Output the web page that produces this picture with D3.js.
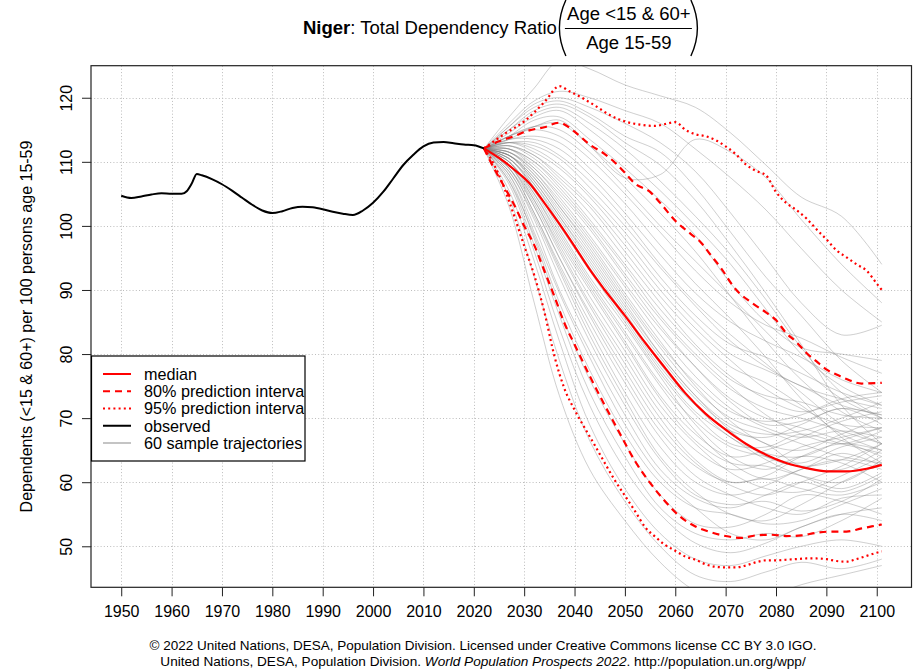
<!DOCTYPE html>
<html><head><meta charset="utf-8">
<script src="https://cdn.jsdelivr.net/npm/d3@7"></script>
<style>
body{margin:0;background:#fff}
svg{display:block}
text{font-family:"Liberation Sans",Arial,Helvetica,sans-serif;fill:#000}
</style>
</head><body>
<svg id="chart" width="917" height="670"></svg>
<script>
// ---------------- data ----------------
const country = "Niger";
const xTicks = [1950,1960,1970,1980,1990,2000,2010,2020,2030,2040,2050,2060,2070,2080,2090,2100];
const yTicks = [50,60,70,80,90,100,110,120];

const obsYears = [1950,1952,1954,1956,1958,1960,1962,1963,1964,1965,1966,1968,1970,1972,1974,1976,1978,1980,1982,1984,1986,1988,1990,1992,1994,1996,1998,2000,2002,2004,2006,2008,2010,2012,2014,2016,2018,2020,2022];
const obsValues = [104.7,104.35,104.6,104.9,105.1,105.0,105.0,105.4,106.6,108.1,107.9,107.3,106.5,105.5,104.4,103.3,102.4,102.0,102.3,102.8,103.0,102.9,102.6,102.2,101.9,101.7,102.4,103.6,105.3,107.4,109.5,111.1,112.4,113.0,113.1,112.9,112.7,112.6,112.1];

const medYears = [2022,2025,2028,2031,2034,2037,2040,2043,2046,2050,2054,2058,2062,2066,2070,2074,2078,2082,2086,2090,2094,2098,2101];
const medValues = [112.1,110.6,108.8,106.7,103.6,100.3,96.8,93.2,90.0,86.0,81.8,77.8,73.9,70.7,68.2,66.0,64.3,63.0,62.2,61.7,61.7,62.1,62.7];

const u80Years = [2022,2025,2028,2031,2034,2037,2040,2043,2046,2048,2050,2052,2055,2057,2060,2063,2065,2067,2069,2072,2075,2078,2080,2082,2084,2086,2088,2090,2092,2094,2097,2101];
const u80Values = [112.1,113.2,114.0,114.9,115.4,116.1,114.7,112.7,111.2,109.9,108.3,106.6,105.3,103.6,100.8,98.8,97.5,95.5,93.5,90.1,88.1,86.5,85.3,83.3,81.9,80.2,78.9,77.6,76.8,76.1,75.4,75.5];

const l80Years = [2022,2024,2026,2028,2030,2032,2034,2036,2038,2040,2043,2046,2049,2052,2055,2058,2061,2064,2067,2070,2073,2076,2079,2082,2085,2088,2091,2094,2097,2099,2101];
const l80Values = [112.1,109.0,106.2,103.3,100.0,97.0,93.0,89.0,84.8,81.5,76.6,72.0,67.6,63.3,59.9,57.0,54.6,53.1,52.2,51.6,51.3,51.7,51.8,51.6,51.7,52.1,52.3,52.3,52.8,53.1,53.4];

const u95Years = [2022,2026,2030,2034,2037,2039,2041,2044,2047,2050,2053,2056,2058,2060,2062,2064,2066,2068,2070,2072,2074,2076,2078,2080,2082,2084,2086,2088,2090,2092,2094,2096,2098,2100,2101];
const u95Values = [112.1,114.3,116.3,119.3,121.8,121.0,120.2,118.8,117.3,116.3,115.8,115.6,115.9,116.2,115.0,114.3,114.0,113.4,112.4,111.2,109.6,108.6,107.9,105.3,103.6,102.5,101.2,99.5,97.9,96.2,95.1,94.0,93.0,91.0,90.0];

const l95Years = [2022,2024,2026,2028,2030,2032,2034,2036,2038,2040,2042,2044,2046,2048,2050,2052,2054,2056,2058,2060,2062,2064,2066,2068,2070,2072,2074,2076,2078,2080,2082,2084,2086,2088,2090,2092,2094,2096,2098,2100,2101];
const l95Values = [112.1,109.6,106.0,101.6,96.9,92.3,86.6,79.7,74.6,71.3,68.5,65.8,63.0,60.3,57.9,55.5,53.0,51.5,50.2,49.3,48.4,47.9,47.2,46.8,46.7,46.7,47.0,47.5,47.8,47.8,47.9,48.0,48.1,48.1,48.0,47.7,47.6,48.0,48.5,49.0,49.2];

const trajYears = [2022,2027,2032,2037,2043,2050,2057,2064,2071,2078,2085,2093,2101];
const trajectories = [
 [112,103,88,73.5,62,54,47.5,43,41,42,44,45.5,47],
 [112,104.5,92,79,66.5,57,50,45.5,44.5,46,47.5,46.5,48],
 [112,105.5,94.5,82,69,59,52,48,47,48.5,50,51,50],
 [112,106.5,96,84,72,62,55,50.5,49,50.5,53,55,56],
 [112,107,97,86,74,64,56,52,51,52,51.5,54,57.5],
 [112,107.5,98,87,76,66,58,53.5,53,55,58,57,55],
 [112,107,98.5,88,77.5,67.5,60,56,55,53.5,54,56.5,59],
 [112,108,99,89.5,79.5,69,61,56,52,51,53,55,54],
 [112,108,100,90,80.5,70.5,62,57.5,56,58,60,58.5,61],
 [112,108.5,101,92,82,72,63.5,58,56.5,57,55.5,57,60.5],
 [112,108.5,101.5,93,83,73,64,58.5,55,54,56.5,60,63],
 [112,109,102,93.5,84,74,65.5,60,58,59.5,62,63.5,62],
 [112,109,102,94,85,75.5,67,61,58,56,55,57.5,58],
 [112,109,103,95,86,76.5,68,62.5,60,61,64,66,65],
 [112,109.5,103,95,86.5,77.5,69,63,59.5,58,60,62.5,66],
 [112,109.5,103.5,96,87.5,78.5,70,63.5,60,60.5,59,58,60],
 [112,109.5,104,96.5,88,79.5,71,65,62,63,65.5,67,68.5],
 [112,110,104,97,89,80.5,72,66,61.5,59,58.5,61,64],
 [112,110,104.5,97.5,90,81.5,73,66.5,63,62.5,61,60,63.5],
 [112,110,105,98,90.5,82,73.5,67.5,64,65,67,69.5,71],
 [112,110,105,98.5,91,83,75,68,63,60.5,62,64.5,62.5],
 [112,110.5,105.5,99,91.5,83.5,75.5,69.5,65.5,64,63,65.5,67],
 [112,110.5,106,99.5,92,84.5,76.5,69,64,62,64,63,60],
 [112,110.5,106,100,93,85,77,70.5,66,65.5,67.5,66,64.5],
 [112,111,106.5,100.5,93.5,85.5,77.5,71,67,63.5,61,59,61.5],
 [112,110.5,106.5,101,94,86,78,72,68,67,69,71.5,69],
 [112,111,107,101.5,94.5,86.5,78.5,72,67,64.5,64,66.5,68.5],
 [112,111,107,101.5,95,87,79.5,73,68.5,66,62.5,62,65],
 [112,111,107.5,102,95.5,87.5,80,73.5,69,67.5,68,70,72.5],
 [112,111,107.5,102.5,96,88,80,73.5,68,64,62.5,63.5,66],
 [112,111.5,108,103,96.5,88.5,81,74.5,70,68,66,64,63],
 [112,111,108,103,97,89,81.5,75.5,71,69.5,70.5,73,74],
 [112,111.5,108.5,103.5,97.5,89.5,82,75,69.5,66,65,67.5,70],
 [112,111.5,108.5,104,98,90.5,83,76.5,71.5,68.5,67,68,67],
 [112,111.5,109,104.5,98.5,91,84,78,73,70,68.5,66.5,64],
 [112,112,109,105,99.5,92,84.5,78,72.5,69,69.5,71.5,70.5],
 [112,112,109.5,105.5,100,92.5,85.5,79.5,74.5,71.5,70,68,66],
 [112,112,110,106,100.5,93.5,86,80,75,70.5,67.5,66,68],
 [112,112,110,106.5,101,94,87,81,76,73.5,72.5,70.5,70],
 [112,112.5,110.5,107,102,95,88,81.5,76.5,73,71,72.5,73.5],
 [112,112.5,111,107.5,103,96,89,83,78,75.5,72,67.5,65],
 [112,112.5,111,108,103.5,97,90,84,79,74.5,71.5,69,68.5],
 [112,113,111.5,109,104.5,98,91,85,80,77.5,75,72,70.5],
 [112,113,112,109.5,105,99,92,86,81.5,79.5,77,74,72],
 [112,113,112.5,110.5,106,100,93.5,87.5,82,78,75,73,71.5],
 [112,113,113,111,107,101,94,88,83,78.5,74,69,66],
 [112,113.5,113.5,112,108,102,95.5,89.5,85,82,79.5,76,74],
 [112,113.5,114,113,109,103.5,97,91,85.5,79.5,73,67,63],
 [112,114,115,114,110.5,105,99,93,88,84.5,82.5,79.5,77],
 [112,114,115.5,115,111.5,106,100,94.5,89,83.5,78,73,70],
 [112,113.5,115.5,116,112.5,107.5,102,96,89,82,76,71,68],
 [112,114,116.5,117,113.5,109,104,98.5,91,85,81,80,79],
 [112,114.5,117,118,115,110.5,105.5,100,94,87,80,75,72],
 [112,115,117.5,118.5,116,112,107,101.5,95.5,88.5,81,74,70],
 [112,115,118,119,117,113,109.5,104,97,89.5,81.5,72,66],
 [112,115.5,118.5,119.5,117.5,114,111.5,106,99,92,86,79,74],
 [112,115.5,119,120,118.5,116,113,108.5,102,95,88,83,84.5],
 [112,116,119.5,121,120,118,116,112,107.5,102.5,96.5,90,85],
 [112,114,115.5,116.5,112.5,107.5,108,113.5,111.5,107.5,101,94,88],
 [112,117,121.5,125.8,124.5,122,120.3,118.5,114.5,109.5,104.5,101.5,94]
];

const legendLabels = ["median","80% prediction interval","95% prediction interval","observed","60 sample trajectories"];

// ---------------- layout ----------------
const svg = d3.select("#chart");
const box = {left:91, right:911.5, top:65.7, bottom:587.3};
const x = d3.scaleLinear().domain([1944, 2107]).range([box.left, box.right+0.5]);
const y = d3.scaleLinear().domain([43.6, 125]).range([box.bottom, box.top]);

svg.append("rect").attr("width",917).attr("height",670).attr("fill","#fff");

const defs = svg.append("defs");
defs.append("clipPath").attr("id","clip")
  .append("rect").attr("x",box.left).attr("y",box.top)
  .attr("width",box.right-box.left).attr("height",box.bottom-box.top);
defs.append("clipPath").attr("id","legclip")
  .append("rect").attr("x",91).attr("y",355).attr("width",213.5).attr("height",107);

// grid
const grid = svg.append("g").attr("stroke","#bdbdbd").attr("stroke-width",1).attr("stroke-dasharray","1,2.2");
grid.selectAll("line.v").data(xTicks).join("line")
  .attr("x1",d=>Math.round(x(d))+0.5).attr("x2",d=>Math.round(x(d))+0.5)
  .attr("y1",box.top).attr("y2",box.bottom);
grid.selectAll("line.h").data(yTicks).join("line")
  .attr("y1",d=>Math.round(y(d))+0.5).attr("y2",d=>Math.round(y(d))+0.5)
  .attr("x1",box.left).attr("x2",box.right);

const plot = svg.append("g").attr("clip-path","url(#clip)");

// trajectories
const trajLine = d3.line().x((d,i)=>x(trajYears[i])).y(d=>y(d)).curve(d3.curveCatmullRom.alpha(0.5));
plot.append("g").selectAll("path").data(trajectories).join("path")
  .attr("d",trajLine).attr("fill","none")
  .attr("stroke","rgb(130,130,130)").attr("stroke-opacity",0.38).attr("stroke-width",1);

function series(years, vals){ return years.map((yr,i)=>[yr, vals[i]]); }
const ln = d3.line().x(d=>x(d[0])).y(d=>y(d[1])).curve(d3.curveMonotoneX);

const red = "#ff0000";
plot.append("path").attr("d",ln(series(u95Years,u95Values))).attr("fill","none").attr("stroke",red).attr("stroke-width",2.2).attr("stroke-dasharray","2,3.2");
plot.append("path").attr("d",ln(series(l95Years,l95Values))).attr("fill","none").attr("stroke",red).attr("stroke-width",2.2).attr("stroke-dasharray","2,3.2");
plot.append("path").attr("d",ln(series(u80Years,u80Values))).attr("fill","none").attr("stroke",red).attr("stroke-width",2.2).attr("stroke-dasharray","7,5");
plot.append("path").attr("d",ln(series(l80Years,l80Values))).attr("fill","none").attr("stroke",red).attr("stroke-width",2.2).attr("stroke-dasharray","7,5");
plot.append("path").attr("d",ln(series(medYears,medValues))).attr("fill","none").attr("stroke",red).attr("stroke-width",2.2);
plot.append("path").attr("d",ln(series(obsYears,obsValues))).attr("fill","none").attr("stroke","#000").attr("stroke-width",2);

// box
svg.append("rect").attr("x",box.left).attr("y",box.top).attr("width",box.right-box.left).attr("height",box.bottom-box.top)
  .attr("fill","none").attr("stroke","#222").attr("stroke-width",1.2);

// axes
const xAxis = d3.axisBottom(x).tickValues(xTicks).tickFormat(d3.format("d")).tickSize(9).tickPadding(9);
const gx = svg.append("g").attr("transform",`translate(0,${box.bottom})`).call(xAxis);
gx.select(".domain").remove();
gx.selectAll("line").attr("stroke","#222");
gx.selectAll("text").attr("font-size",16).attr("font-family","Liberation Sans, Arial, sans-serif").attr("fill","#000");

const yAxis = d3.axisLeft(y).tickValues(yTicks).tickSize(9).tickFormat(d3.format("d"));
const gy = svg.append("g").attr("transform",`translate(${box.left},0)`).call(yAxis);
gy.select(".domain").remove();
gy.selectAll("line").attr("stroke","#222");
gy.selectAll("text").attr("font-size",16).attr("font-family","Liberation Sans, Arial, sans-serif").attr("fill","#000")
  .attr("x",0).attr("dy",null).attr("text-anchor","middle")
  .attr("transform","translate(-19,0) rotate(-90)");

// y label
svg.append("text").attr("transform",`translate(32,${(box.top+box.bottom)/2}) rotate(-90)`)
  .attr("text-anchor","middle").attr("font-size",16)
  .text("Dependents (<15 & 60+) per 100 persons age 15-59");

// title
const title = svg.append("text").attr("x",303).attr("y",33.5).attr("font-size",18);
title.append("tspan").attr("font-weight","bold").text(country);
title.append("tspan").text(": Total Dependency Ratio");
const tw = title.node().getComputedTextLength();
const titleSize = 18 * 254 / tw;
title.attr("font-size", titleSize);
const tEnd = 303 + title.node().getComputedTextLength();
const fracL = tEnd + 10, fracW = 124, fracC = fracL + fracW/2;
svg.append("text").attr("x",fracC).attr("y",19.5).attr("text-anchor","middle").attr("font-size",titleSize).text("Age <15 & 60+");
svg.append("text").attr("x",fracC).attr("y",48.5).attr("text-anchor","middle").attr("font-size",titleSize).text("Age 15-59");
svg.append("line").attr("x1",fracL-2).attr("x2",fracL+fracW+1).attr("y1",28.5).attr("y2",28.5).attr("stroke","#000").attr("stroke-width",1);
svg.append("path").attr("d",`M${fracL-1},0 Q${fracL-14},28 ${fracL-1},56`).attr("fill","none").attr("stroke","#000").attr("stroke-width",1.4);
svg.append("path").attr("d",`M${fracL+fracW},0 Q${fracL+fracW+13},28 ${fracL+fracW},56`).attr("fill","none").attr("stroke","#000").attr("stroke-width",1.4);

// legend
const lg = svg.append("g");
lg.append("rect").attr("x",91.5).attr("y",356).attr("width",213.5).attr("height",105).attr("fill","#fff");
const legStyles = [
  {c:red,dash:null},{c:red,dash:"7,5"},{c:red,dash:"2,3.2"},{c:"#000",dash:null},{c:"#c4c4c4",dash:null}
];
const rowY = d3.scaleLinear().domain([0,4]).range([374,443]);
const rows = lg.append("g").attr("clip-path","url(#legclip)").selectAll("g.row").data(legendLabels).join("g").attr("transform",(d,i)=>`translate(0,${rowY(i)})`);
rows.append("line").attr("x1",103).attr("x2",131).attr("y1",0).attr("y2",0)
  .attr("stroke",(d,i)=>legStyles[i].c).attr("stroke-width",2.2)
  .attr("stroke-dasharray",(d,i)=>legStyles[i].dash);
rows.append("text").attr("x",144).attr("y",5.8).attr("font-size",16.2).text(d=>d);
lg.append("rect").attr("x",91.5).attr("y",356).attr("width",213.5).attr("height",105).attr("fill","none").attr("stroke","#000").attr("stroke-width",1.2);

// footer
svg.append("text").attr("x",483).attr("y",650).attr("text-anchor","middle").attr("font-size",13.5)
  .text("© 2022 United Nations, DESA, Population Division. Licensed under Creative Commons license CC BY 3.0 IGO.");
const f2 = svg.append("text").attr("x",483).attr("y",665.5).attr("text-anchor","middle").attr("font-size",13.6);
f2.append("tspan").text("United Nations, DESA, Population Division. ");
f2.append("tspan").attr("font-style","italic").text("World Population Prospects 2022");
f2.append("tspan").text(". http://population.un.org/wpp/");
</script>
</body></html>
